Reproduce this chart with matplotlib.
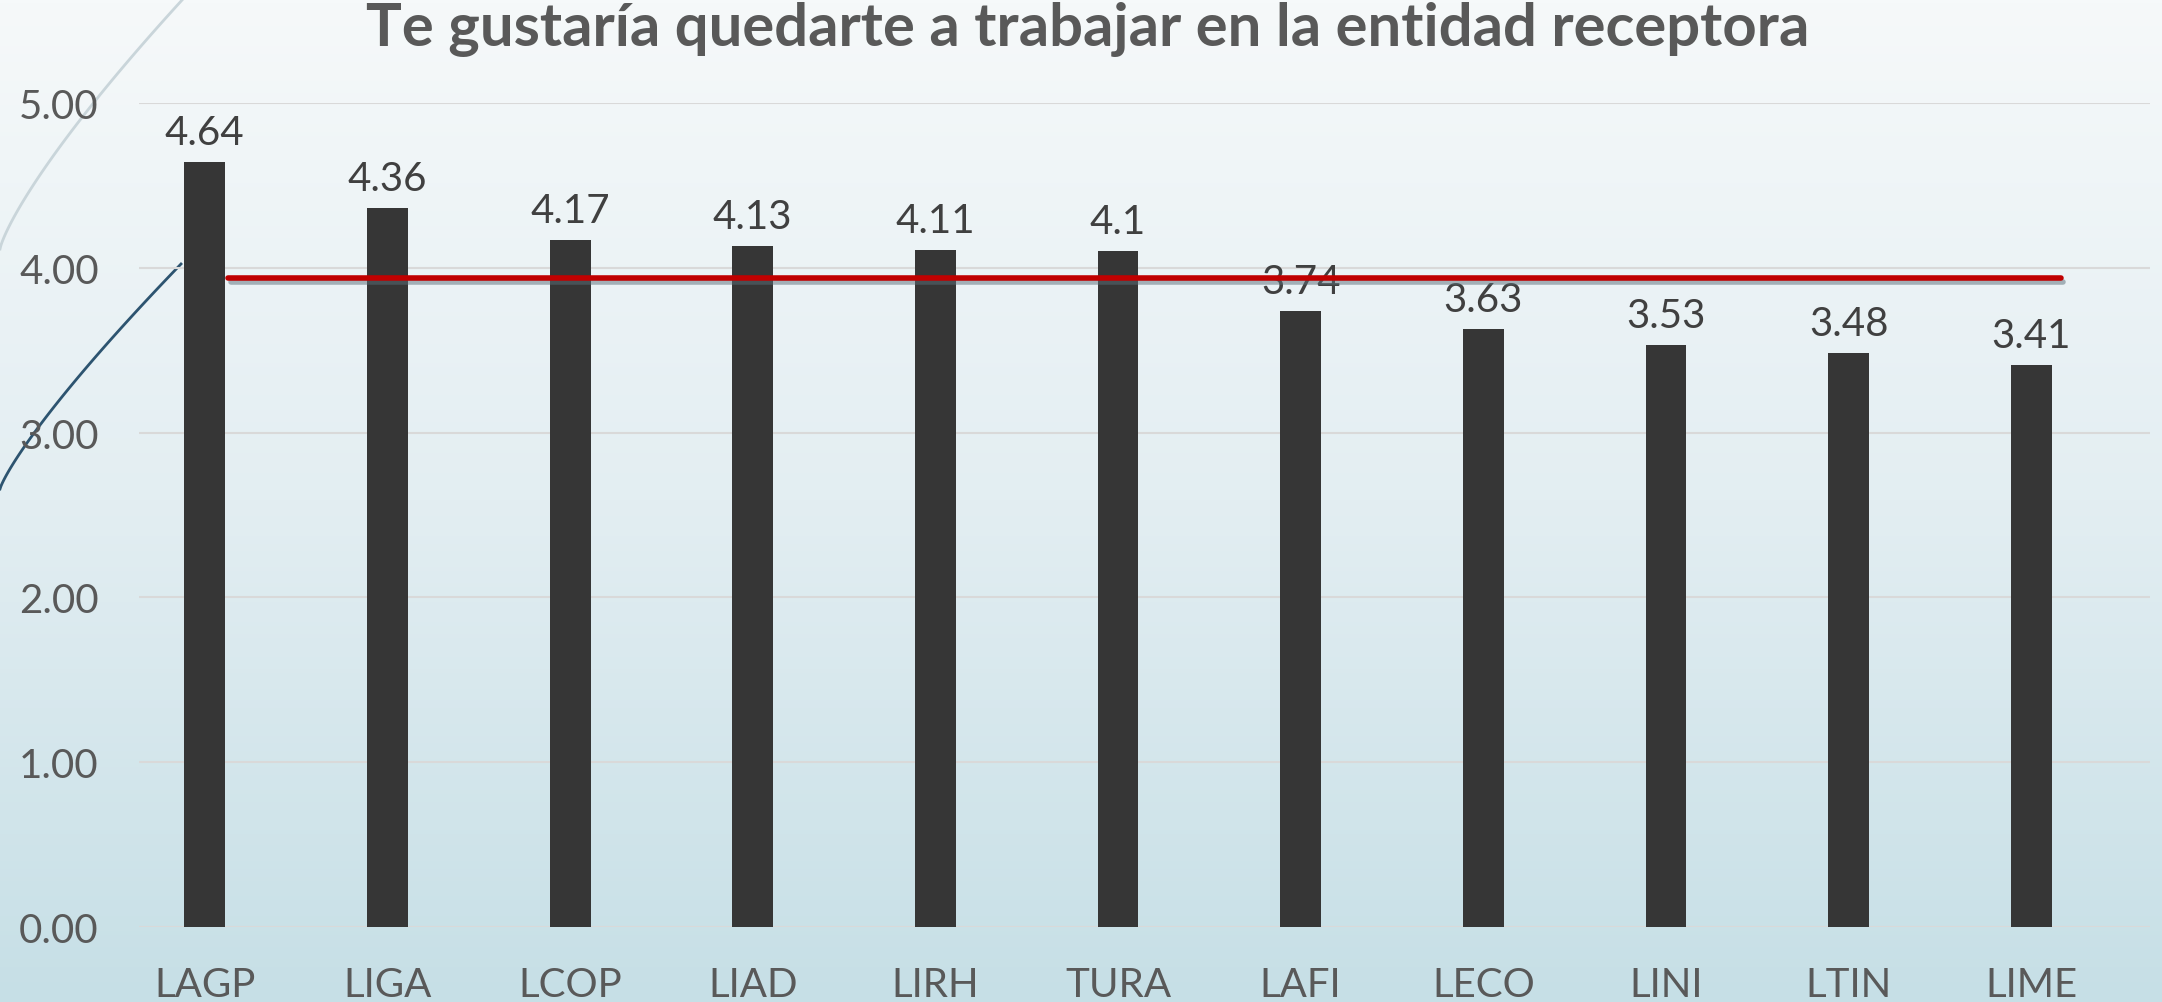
import matplotlib.pyplot as plt
import matplotlib.patheffects as pe
from matplotlib.colors import LinearSegmentedColormap
import numpy as np

plt.rcParams['font.family'] = ['Lato', 'DejaVu Sans']

categories = ["LAGP", "LIGA", "LCOP", "LIAD", "LIRH", "TURA",
              "LAFI", "LECO", "LINI", "LTIN", "LIME"]
values = [4.64, 4.36, 4.17, 4.13, 4.11, 4.1, 3.74, 3.63, 3.53, 3.48, 3.41]
value_labels = ["4.64", "4.36", "4.17", "4.13", "4.11", "4.1",
                "3.74", "3.63", "3.53", "3.48", "3.41"]
average = 3.94
title = "Te gustaría quedarte a trabajar en la entidad receptora"

W, H = 2162, 1003
fig = plt.figure(figsize=(W / 100, H / 100), dpi=100)

# background gradient
bg = fig.add_axes([0, 0, 1, 1])
bg.set_axis_off()
grad = np.linspace(0, 1, 256).reshape(-1, 1)
cmap = LinearSegmentedColormap.from_list("bg", ["#f6f9fa", "#e3eef2", "#c6dfe6"])
bg.imshow(grad, aspect="auto", cmap=cmap, extent=[0, W, H, 0])
bg.set_xlim(0, W)
bg.set_ylim(H, 0)

# decorative arcs at the left edge (pixel coords)
t = np.linspace(0, 1, 100)
x1 = 183 * t ** 1.25
y1 = 250 * (1 - t)
bg.plot(x1, y1, color="#c9d5da", lw=2)
x2 = 181 * t ** 1.2
y2 = 490 - 225 * t
bg.plot(x2, y2, color="#2d5470", lw=2)

ax = fig.add_axes([139 / W, 1 - 928 / H, (2150 - 139) / W, (928 - 104) / H])
ax.set_facecolor("none")
x = np.arange(len(categories))
ax.bar(x, values, width=0.224, color="#363636", zorder=3)

for xi, v, lab in zip(x, values, value_labels):
    ax.annotate(lab, (xi, v), xytext=(0, 8), textcoords="offset points",
                ha="center", va="bottom", fontsize=29, color="#404040", zorder=4)

ax.plot([0.126, 10.16], [average, average], color="#c00000", lw=4,
        solid_capstyle="round", zorder=5,
        path_effects=[pe.SimpleLineShadow(offset=(2, -3), shadow_color="#5a6e78", alpha=0.5),
                      pe.Normal()])

ax.set_xlim(-0.36, 10.65)
ax.set_ylim(0, 5)
ax.set_yticks([0, 1, 2, 3, 4, 5])
ax.set_yticklabels([f"{v:.2f}" for v in [0, 1, 2, 3, 4, 5]])
ax.set_xticks(x)
ax.set_xticklabels(categories)
ax.tick_params(axis="both", length=0, labelsize=29, labelcolor="#595959")
ax.tick_params(axis="x", pad=28)
ax.tick_params(axis="y", pad=29)
ax.grid(axis="y", color="#d9d9d9", lw=1.5, zorder=0)
for s in ax.spines.values():
    s.set_visible(False)

fig.text(1088 / W, 1 - 30 / H, title, ha="center", va="center",
         fontsize=43, fontweight="bold", color="#595959")

fig.savefig("out.png", dpi=100)
